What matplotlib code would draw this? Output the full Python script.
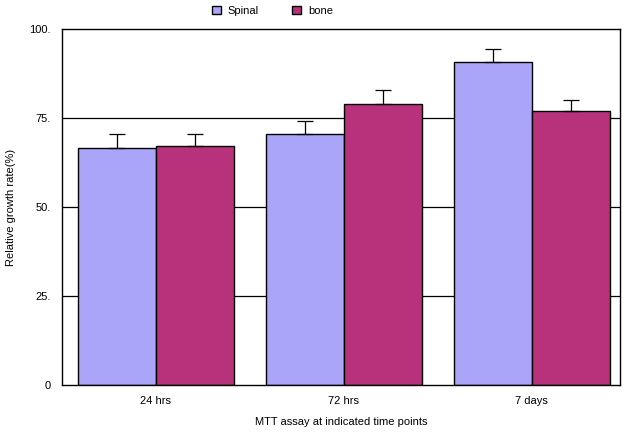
import numpy as np
import matplotlib
matplotlib.use('Agg')
import matplotlib.pyplot as plt

# data
groups = ['24 hrs', '72 hrs', '7 days']
spinal = [66.6, 70.5, 90.6]
spinal_err = [3.9, 3.6, 3.7]
bone = [67.1, 78.9, 77.0]
bone_err = [3.4, 4.0, 3.0]
yticks = [0, 25, 50, 75, 100]
ytick_labels = ['0', '25.', '50.', '75.', '100.']

plt.rcParams['font.family'] = ['Liberation Sans', 'DejaVu Sans']

fig = plt.figure(figsize=(6.34, 4.32), dpi=100)
ax = fig.add_axes([0.0978, 0.1088, 0.8802, 0.8242])

x = np.arange(len(groups))
w = 0.415
ax.bar(x - w / 2, spinal, w, color='#aaa5f8', edgecolor='black', linewidth=1.0,
       label='Spinal', zorder=2)
ax.bar(x + w / 2, bone, w, color='#b7327a', edgecolor='black', linewidth=1.0,
       label='bone', zorder=2)
ax.errorbar(x - w / 2, spinal, yerr=[np.zeros(3), spinal_err], fmt='none',
            ecolor='black', elinewidth=0.9, capsize=6, capthick=0.9, zorder=3)
ax.errorbar(x + w / 2, bone, yerr=[np.zeros(3), bone_err], fmt='none',
            ecolor='black', elinewidth=0.9, capsize=6, capthick=0.9, zorder=3)

for v in [25, 50, 75]:
    ax.axhline(v, color='black', linewidth=0.9, zorder=1)

ax.set_xlim(-0.5, 2.47)
ax.set_ylim(0, 100)
ax.set_xticks(x)
ax.set_xticklabels(groups, fontsize=8)
ax.set_yticks(yticks)
ax.set_yticklabels(ytick_labels, fontsize=8)
ax.tick_params(length=0, pad=8)
for s in ax.spines.values():
    s.set_linewidth(1.0)

ax.set_xlabel('MTT assay at indicated time points', fontsize=8, labelpad=8)
ax.set_ylabel('Relative growth rate(%)', fontsize=8, labelpad=10)

fig.legend(loc='center', bbox_to_anchor=(0.43, 0.975), ncol=2, frameon=False,
           fontsize=8, handlelength=0.8, handleheight=0.8, columnspacing=3.0,
           handletextpad=0.6)

fig.savefig('out.png', dpi=100)
